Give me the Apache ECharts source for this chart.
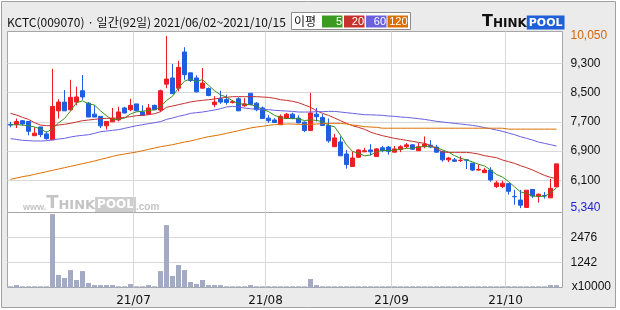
<!DOCTYPE html>
<html><head><meta charset="utf-8">
<script src="https://cdn.jsdelivr.net/npm/echarts@6/dist/echarts.min.js"></script>
<style>html,body{margin:0;padding:0;background:#fff}#c{width:620px;height:310px}</style>
</head><body><div id="c"></div>
<script>
// ---------- data ----------
const dates = [
'2021/06/02','2021/06/03','2021/06/04','2021/06/07','2021/06/08','2021/06/09','2021/06/10','2021/06/11','2021/06/14','2021/06/15',
'2021/06/16','2021/06/17','2021/06/18','2021/06/21','2021/06/22','2021/06/23','2021/06/24','2021/06/25','2021/06/28','2021/06/29',
'2021/06/30','2021/07/01','2021/07/02','2021/07/05','2021/07/06','2021/07/07','2021/07/08','2021/07/09','2021/07/12','2021/07/13',
'2021/07/14','2021/07/15','2021/07/16','2021/07/19','2021/07/20','2021/07/21','2021/07/22','2021/07/23','2021/07/26','2021/07/27',
'2021/07/28','2021/07/29','2021/07/30','2021/08/02','2021/08/03','2021/08/04','2021/08/05','2021/08/06','2021/08/09','2021/08/10',
'2021/08/11','2021/08/12','2021/08/13','2021/08/17','2021/08/18','2021/08/19','2021/08/20','2021/08/23','2021/08/24','2021/08/25',
'2021/08/26','2021/08/27','2021/08/30','2021/08/31','2021/09/01','2021/09/02','2021/09/03','2021/09/06','2021/09/07','2021/09/08',
'2021/09/09','2021/09/10','2021/09/13','2021/09/14','2021/09/15','2021/09/16','2021/09/17','2021/09/23','2021/09/24','2021/09/27',
'2021/09/28','2021/09/29','2021/09/30','2021/10/01','2021/10/05','2021/10/06','2021/10/07','2021/10/08','2021/10/12','2021/10/13',
'2021/10/14','2021/10/15'];
const open = [7630,7620,7730,7710,7320,7560,7370,7210,8000,8240, 8030,8240,8550,8210,7910,7850,7590,7700,7750,8080,
 8030,8190,7970,7910,8150,8020,8730,8900,8620,9610, 9040,8900,8620,8610,8170,8330,8310,8230,8330,8140,
 8480,8210,8080,7800,7750,7620,7790,7910,7800,7690, 7460,7910,7820,7600,7020,7150,6820,6480,6730,6880,
 6930,6750,6990,7010,6870,6940,7020,7070,6910,7020, 7060,7010,6890,6660,6660,6640,6660,6570,6380,6310,
 6380,5930,5930,6010,5660,5560,5360,5850,5670,5680, 5620,5920];
const close = [7610,7710,7640,7440,7390,7350,7240,8120,8240,8000, 8370,8380,8380,7830,7830,7590,7710,7800,7970,7940,
 8150,8000,7880,8080,8030,8550,8870,8470,9190,8990, 8830,8520,8760,8420,8240,8240,8230,8250,8000,8190,
 8170,8030,7790,7730,7680,7850,7910,7790,7670,7460, 7940,7840,7600,7180,7260,6770,6530,6710,6930,6910,
 6880,6960,6910,6890,6960,7020,7070,6950,7020,7090, 7010,6870,6660,6710,6620,6650,6650,6380,6400,6380,
 6110,6030,6020,5800,5650,5420,5830,5670,5720,5670, 5880,6550];
const low = [7550,7530,7600,7330,7320,7280,7210,7210,7790,8000, 8000,8150,8300,7830,7830,7530,7490,7700,7710,7930,
 7990,7990,7880,7900,8020,7970,8620,8460,8530,8850, 8790,8500,8610,8400,8100,8190,8170,8200,8000,8110,
 8170,7990,7790,7670,7670,7620,7790,7770,7660,7420, 7460,7710,7600,7130,7020,6770,6420,6480,6710,6870,
 6780,6750,6870,6800,6870,6870,6980,6930,6910,6980, 6980,6850,6610,6600,6600,6600,6410,6350,6360,6300,
 6060,5890,5890,5710,5430,5340,5350,5620,5490,5600, 5620,5920];
const high = [7700,7790,7750,7720,7550,7560,7440,9150,8320,8570, 8850,8660,8980,8240,8150,7850,7710,8080,8110,8110,
 8330,8190,8150,8190,8170,8580,10050,9280,9370,9740, 9040,8970,9170,8640,8400,8550,8440,8300,8370,8350,
 8480,8240,8120,7880,7800,7900,7940,7950,7880,7710, 8490,8080,7910,7790,7370,7300,6930,6890,6950,6990,
 7090,6980,7040,7040,7040,7060,7120,7090,7120,7300, 7200,7070,6910,6740,6710,6760,6680,6570,6530,6440,
 6460,6090,6090,6010,5840,5840,5830,5850,5740,5780, 6140,6550];
// volume in units of 10,000 shares
const volume = [60,120,60,60,60,60,60,3620,620,470, 860,370,810,220,120,120,120,120,60,60,
 170,60,60,120,60,810,3080,570,1110,860, 270,170,370,120,120,120,60,60,60,60,
 120,60,60,60,60,60,60,60,60,60, 420,120,60,60,60,60,60,60,60,60,
 60,60,60,60,60,60,60,60,60,60, 60,60,60,60,60,60,60,60,60,60,
 60,60,60,60,60,60,60,60,60,60, 120,120];
const ma5 = [7620,7625,7610,7590,7559,7507,7412,7509,7669,7791, 7995,8223,8274,8192,8157,8001,7868,7753,7780,7802,
 7915,7973,7990,8012,8030,8110,8283,8400,8623,8814, 8869,8798,8856,8701,8552,8435,8378,8276,8194,8183,
 8168,8128,8036,7981,7879,7815,7791,7791,7778,7735, 7753,7738,7702,7605,7565,7332,7069,6891,6840,6770,
 6792,6879,6919,6912,6923,6950,6972,6980,7005,7031, 7029,6989,6932,6870,6776,6704,6659,6602,6540,6493,
 6384,6261,6188,6068,5922,5783,5742,5673,5658,5662, 5755,5898];
const ma20 = [7932,7886,7822,7767,7676,7612,7594,7594,7612,7631, 7658,7695,7731,7749,7767,7786,7795,7795,7804,7822,
 7840,7868,7877,7895,7922,7977,8096,8132,8169,8205, 8242,8269,8287,8305,8324,8351,8369,8388,8388,8388,
 8388,8388,8378,8369,8342,8305,8287,8260,8223,8160, 8096,8004,7932,7877,7804,7731,7658,7594,7549,7494,
 7420,7366,7321,7284,7248,7220,7193,7166,7138,7111, 7056,6965,6874,6865,6865,6865,6865,6847,6819,6774,
 6746,6719,6655,6610,6564,6500,6446,6382,6309,6236, 6181,6144];
const ma60 = [7239,7220,7193,7184,7175,7175,7184,7202,7230,7248, 7284,7312,7330,7348,7385,7430,7448,7467,7485,7521,
 7558,7594,7622,7649,7676,7704,7767,7804,7850,7886, 7932,7950,7968,7995,8023,8059,8105,8123,8105,8077,
 8059,8041,8041,8032,8014,8004,7995,7986,7968,7968, 7968,7977,7977,7986,7986,7968,7950,7932,7913,7895,
 7890,7886,7877,7859,7850,7831,7822,7804,7786,7767, 7740,7713,7695,7676,7658,7640,7622,7603,7576,7540,
 7512,7476,7439,7394,7348,7293,7248,7202,7147,7111, 7075,7038];
const ma120 = [6126,6163,6199,6227,6263,6300,6336,6373,6409,6446, 6482,6518,6555,6591,6628,6673,6710,6755,6792,6819,
 6847,6874,6910,6947,6983,7020,7047,7075,7111,7147, 7175,7215,7257,7294,7320,7348,7385,7421,7458,7494,
 7531,7558,7576,7604,7622,7631,7640,7640,7631,7631, 7631,7640,7649,7658,7658,7658,7640,7613,7594,7567,
 7558,7549,7525,7525,7525,7525,7525,7525,7525,7525, 7525,7525,7525,7525,7525,7525,7525,7525,7525,7525,
 7525,7525,7525,7500,7500,7500,7500,7500,7500,7500, 7500,7500];
const priceTicks = [6100, 6900, 7700, 8500, 9300];
const volumeTicks = [1242, 2476];
const maPeriods = ['5', '20', '60', '120'];
const titleText = 'KCTC(009070) · 일간(92일) 2021/06/02~2021/10/15';
const volumeUnit = 'x10000';

// ---------- styles ----------
const UP = '#ee1c24', DOWN = '#1f5ee0', VOL = '#a3abc4', GRIDC = '#d8d8d8', BORDER = '#a6a6a6';
const MA_COLORS = ['#3c8f1c', '#c5302b', '#6a5fe0', '#dd7000'];
const LEG_COLORS = ['#3c9a22', '#c8302c', '#6b63dd', '#dc6e00'];
const NUMFONT = 'Liberation Sans';

const fmt = v => Math.round(v).toLocaleString('en-US');
const series2 = arr => arr.map((v, i) => [i, v]);
const candleData = dates.map((d, i) => [i, open[i], close[i], low[i], high[i]]);
const maxHigh = Math.max(...high), minLow = Math.min(...low);
const monthMarks = [];
for (let i = 1; i < dates.length; i++) {
  const m = dates[i].slice(5, 7);
  if (m !== dates[i - 1].slice(5, 7)) monthMarks.push({ xAxis: i - 0.5, name: dates[i].slice(2, 4) + '/' + m });
}
const numLabel = { position: 'end', distance: 8, color: '#111', fontFamily: NUMFONT, fontSize: 12 };

const legendEls = [];
const legX = [322, 344, 366, 387.5];
maPeriods.forEach((p, k) => {
  legendEls.push({ type: 'rect', z: 5, shape: { x: legX[k], y: 15.5, width: 20.5, height: 12 }, style: { fill: LEG_COLORS[k] } });
  legendEls.push({ type: 'text', z: 6, x: legX[k] + 20, y: 22, style: { text: p, fill: '#fff', font: '11px "' + NUMFONT + '"', align: 'right', verticalAlign: 'middle' } });
});

const option = {
  animation: false,
  backgroundColor: '#ffffff',
  grid: [
    { left: 7.5, top: 31.5, width: 555, height: 181, show: true, backgroundColor: '#fff', borderColor: BORDER, borderWidth: 1 },
    { left: 7.5, top: 212.5, width: 555, height: 75, show: true, backgroundColor: '#fff', borderColor: BORDER, borderWidth: 1 }
  ],
  xAxis: [
    { type: 'value', gridIndex: 0, min: -0.5, max: 92, show: false },
    { type: 'value', gridIndex: 1, min: -0.5, max: 92, show: false }
  ],
  yAxis: [
    { type: 'value', gridIndex: 0, min: 5220, max: 10170, show: false },
    { type: 'value', gridIndex: 1, min: 0, max: 3700, show: false }
  ],
  series: [
    {
      type: 'candlestick', xAxisIndex: 0, yAxisIndex: 0, z: 3,
      data: candleData, encode: { x: 0, y: [1, 2, 3, 4] },
      barWidth: 4,
      itemStyle: { color: UP, color0: DOWN, borderColor: UP, borderColor0: DOWN, borderWidth: 1 },
      markLine: {
        silent: true, z: 1, symbol: ['none', 'none'], animation: false,
        lineStyle: { color: GRIDC, width: 1, type: 'solid' },
        label: Object.assign({ formatter: p => fmt(p.value) }, numLabel),
        emphasis: { disabled: true },
        data: [
          ...priceTicks.map(v => ({ yAxis: v })),
          { yAxis: maxHigh, lineStyle: { color: 'rgba(0,0,0,0)' }, label: { color: '#d2670c' } },
          { yAxis: minLow, lineStyle: { color: 'rgba(0,0,0,0)' }, label: { color: '#2222d0' } },
          ...monthMarks.map(m => ({ xAxis: m.xAxis, label: { show: false } }))
        ]
      }
    },
    { type: 'line', name: '5', xAxisIndex: 0, yAxisIndex: 0, z: 4, data: series2(ma5), showSymbol: false, lineStyle: { color: MA_COLORS[0], width: 1 } },
    { type: 'line', name: '20', xAxisIndex: 0, yAxisIndex: 0, z: 4, data: series2(ma20), showSymbol: false, lineStyle: { color: MA_COLORS[1], width: 1 } },
    { type: 'line', name: '60', xAxisIndex: 0, yAxisIndex: 0, z: 4, data: series2(ma60), showSymbol: false, lineStyle: { color: MA_COLORS[2], width: 1 } },
    { type: 'line', name: '120', xAxisIndex: 0, yAxisIndex: 0, z: 4, data: series2(ma120), showSymbol: false, lineStyle: { color: MA_COLORS[3], width: 1 } },
    {
      type: 'bar', xAxisIndex: 1, yAxisIndex: 1, z: 3, data: series2(volume), barWidth: 5,
      itemStyle: { color: VOL },
      markLine: {
        silent: true, z: 1, symbol: ['none', 'none'], animation: false,
        lineStyle: { color: GRIDC, width: 1, type: 'solid' },
        label: Object.assign({ formatter: p => String(p.value) }, numLabel),
        data: [
          ...volumeTicks.map(v => ({ yAxis: v })),
          ...monthMarks.map(m => ({ xAxis: m.xAxis, name: m.name,
            label: { position: 'start', distance: 7, formatter: '{b}', color: '#111', fontFamily: 'DejaVu Sans', fontSize: 12 } }))
        ]
      }
    }
  ],
  graphic: [
    { type: 'rect', z: -100, silent: true, shape: { x: 1.5, y: 1.5, width: 614, height: 306 }, style: { fill: '#ebebeb', stroke: '#a0a0a0', lineWidth: 1 } },
    { type: 'text', z: 5, x: 7, y: 22, style: { text: titleText, fill: '#111', font: '12px "Noto Sans CJK KR"', verticalAlign: 'middle' } },
    { type: 'rect', z: 5, shape: { x: 291.5, y: 12.5, width: 119, height: 17 }, style: { fill: '#fff', stroke: '#8c8c8c', lineWidth: 1 } },
    { type: 'text', z: 6, x: 294, y: 21.5, style: { text: '이평', fill: '#111', font: '12px "Noto Sans CJK KR"', verticalAlign: 'middle' } },
    ...legendEls,
    { type: 'text', z: 6, x: 482, y: 21.5, style: {
        text: '{a|T}{b|HINK}{c|POOL}', verticalAlign: 'middle',
        rich: {
          a: { font: 'bold 16px "DejaVu Sans"', fill: '#111', verticalAlign: 'bottom' },
          b: { font: 'bold 12px "DejaVu Sans"', fill: '#111', verticalAlign: 'bottom' },
          c: { font: 'bold 11px "DejaVu Sans"', fill: '#fff', backgroundColor: '#1f5fd8', padding: [2, 2, 1, 2], verticalAlign: 'bottom' }
        } } },
    { type: 'text', z: 1, x: 23, y: 203, silent: true, style: {
        text: '{w|www.}{t|T}{h|HINK}{p|POOL}{c|.com}', verticalAlign: 'middle',
        rich: {
          w: { font: 'bold 9px "Liberation Sans"', fill: '#c4c4c4', verticalAlign: 'bottom' },
          t: { font: 'bold 18px "DejaVu Sans"', fill: '#c4c4c4', verticalAlign: 'bottom' },
          h: { font: 'bold 13px "DejaVu Sans"', fill: '#c4c4c4', verticalAlign: 'bottom' },
          p: { font: 'bold 12px "DejaVu Sans"', fill: '#fff', backgroundColor: '#cdcdcd', padding: [2, 2, 1, 2], verticalAlign: 'bottom' },
          c: { font: 'bold 10px "Liberation Sans"', fill: '#c4c4c4', verticalAlign: 'bottom' }
        } } },
    { type: 'text', z: 5, x: 611, y: 286.5, style: { text: volumeUnit, fill: '#111', font: '12px "' + NUMFONT + '"', align: 'right', verticalAlign: 'middle' } }
  ]
};
const chart = echarts.init(document.getElementById('c'));
chart.setOption(option);
</script>
</body></html>
